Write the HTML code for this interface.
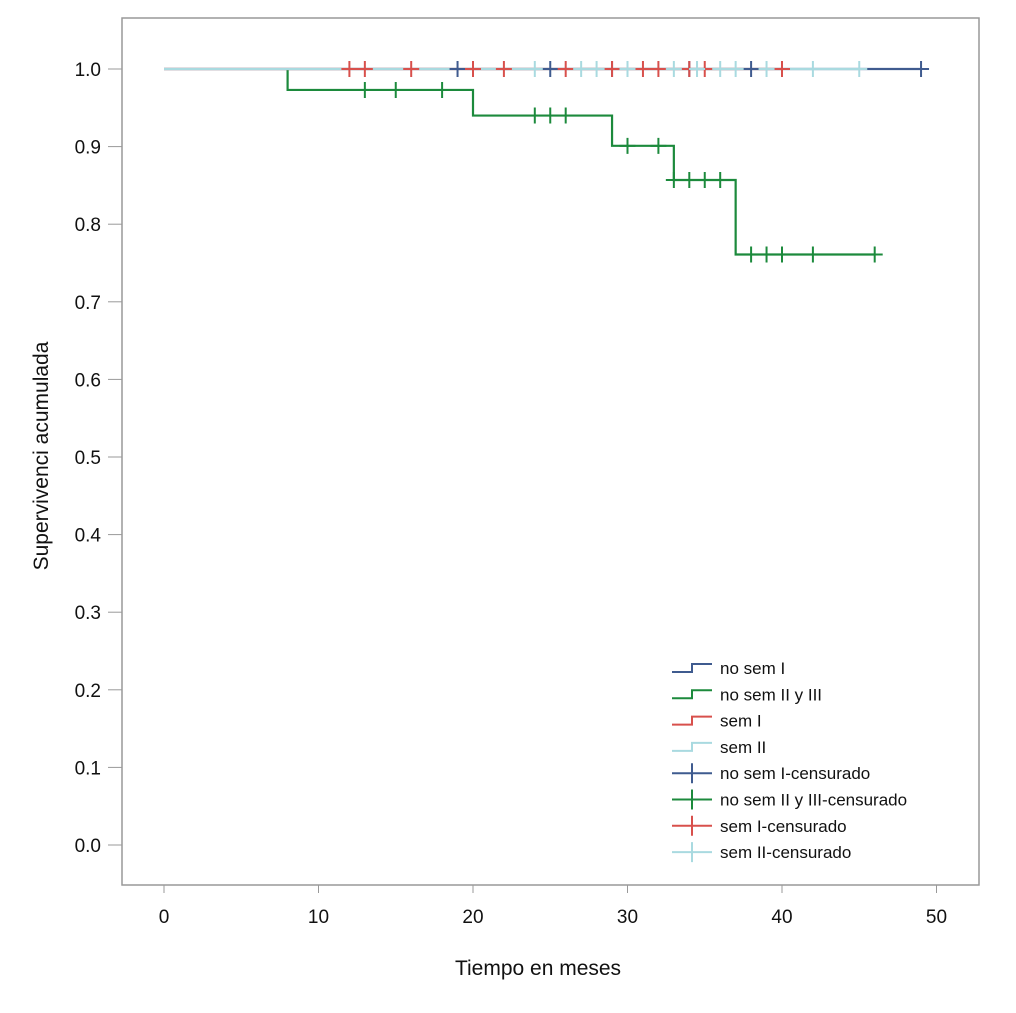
<!DOCTYPE html>
<html><head><meta charset="utf-8"><style>
body{margin:0;background:#fff;font-family:"Liberation Sans",sans-serif}
</style></head><body>
<svg id="chart" width="1016" height="1008" xmlns="http://www.w3.org/2000/svg" font-family="Liberation Sans, sans-serif"></svg>
<script>
const xTicks=[0,10,20,30,40,50];
const yTicks=[0.0,0.1,0.2,0.3,0.4,0.5,0.6,0.7,0.8,0.9,1.0];
const navySteps=[[0,1.0],[49,1.0]];
const greenSteps=[[8,1.0],[8,0.973],[20,0.973],[20,0.94],[29,0.94],[29,0.901],[33,0.901],[33,0.857],[37,0.857],[37,0.761],[46,0.761]];
const redSteps=[[0,1.0],[40,1.0]];
const lightSteps=[[0,1.0],[45,1.0]];
const navyCens=[19,25,29,34,38,49];
const redCens=[12,13,16,20,22,26,29,31,32,34,35,40];
const lightCens=[24,27,28,30,33,34.5,36,37,39,42,45];
const greenCensT=[13,15,18,24,25,26,30,32,33,34,35,36,38,39,40,42,46];
const greenCensS=[0.973,0.973,0.973,0.94,0.94,0.94,0.901,0.901,0.857,0.857,0.857,0.857,0.761,0.761,0.761,0.761,0.761];
const legendLabels=["no sem I","no sem II y III","sem I","sem II","no sem I-censurado","no sem II y III-censurado","sem I-censurado","sem II-censurado"];
const colors=["#3f5b8f","#1c8a3c","#d8504c","#a9dae0"];
const X=v=>164+v*15.45, Y=v=>845-v*776;
const svg=document.getElementById('chart');
const NS="http://www.w3.org/2000/svg";
function mk(t,a,p){const e=document.createElementNS(NS,t);for(const k in a)e.setAttribute(k,a[k]);(p||svg).appendChild(e);return e;}
let e=mk('rect',{x:122,y:18,width:857,height:867,fill:'none',stroke:'#999','stroke-width':1.5});


xTicks.forEach(t=>{
 const l=mk('line',{x1:X(t),x2:X(t),y1:885,y2:893,stroke:'#999'});
 
 
 const tx=mk('text',{x:X(t),y:923,'text-anchor':'middle','font-size':19,fill:'#111'});tx.textContent=t;
 
 
});
yTicks.forEach(t=>{
 const l=mk('line',{x1:108,x2:122,y1:Y(t),y2:Y(t),stroke:'#999'});
 
 
 const tx=mk('text',{x:101,y:Y(t)+7,'text-anchor':'end','font-size':19,fill:'#111'});tx.textContent=t.toFixed(1);
 
 
});
let xt=mk('text',{x:538,y:975,'text-anchor':'middle','font-size':21,fill:'#111'});xt.textContent='Tiempo en meses';


let yt=mk('text',{x:0,y:0,'text-anchor':'middle','font-size':21,fill:'#111',transform:'translate(48,456) rotate(-90)'});yt.textContent='Supervivenci acumulada';


function step(pts,c,name){
 const d=pts.map((p,i)=>(i?'L':'M')+X(p[0])+' '+Y(p[1])).join(' ');
 const p=mk('path',{d:d,fill:'none',stroke:c,'stroke-width':2.2});
 
 
}
function cens(ts,ss,c,name){
 ts.forEach((t,i)=>{const x=X(t),y=Y(ss[i]);
  const p=mk('path',{d:`M${x-8} ${y}H${x+8}M${x} ${y-8}V${y+8}`,stroke:c,'stroke-width':2});
  
  });
}
step(navySteps,colors[0],'no-sem-i-line');
step(greenSteps,colors[1],'no-sem-ii-iii-line');
step(redSteps,colors[2],'sem-i-line');
step(lightSteps,colors[3],'sem-ii-line');
cens(navyCens,navyCens.map(()=>1),colors[0],'no-sem-i-censor');
cens(redCens,redCens.map(()=>1),colors[2],'sem-i-censor');
cens(lightCens,lightCens.map(()=>1),colors[3],'sem-ii-censor');
cens(greenCensT,greenCensS,colors[1],'no-sem-ii-iii-censor');
legendLabels.forEach((lab,i)=>{
 const y=668+i*26.3,c=colors[i%4];
 const g=mk('g',{});
 
 
 if(i<4) mk('path',{d:`M672 ${y+4}H692V${y-4}H712`,fill:'none',stroke:c,'stroke-width':2},g);
 else mk('path',{d:`M672 ${y}H712M692 ${y-10}V${y+10}`,stroke:c,'stroke-width':2},g);
 const t=mk('text',{x:720,y:y+6,'font-size':17,fill:'#111'},g);t.textContent=lab;
});
</script>
</body></html>
